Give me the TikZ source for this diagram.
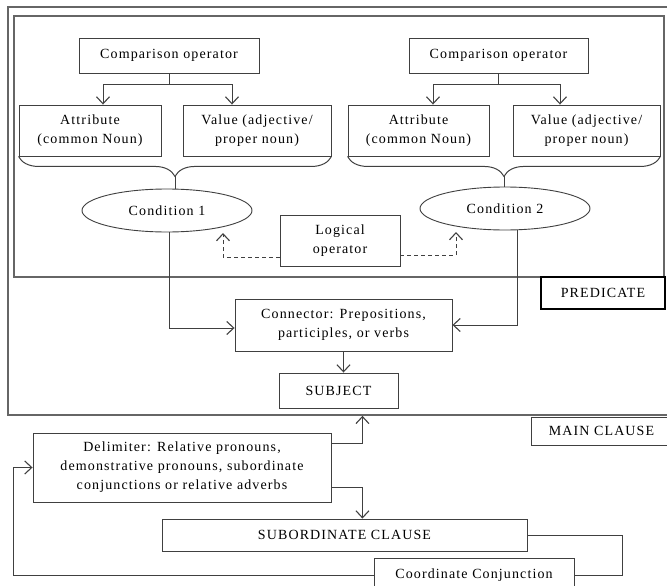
\documentclass[tikz,border=0pt]{standalone}
\usepackage{fontspec}
\setmainfont{Liberation Serif}[LetterSpace=8]
\usetikzlibrary{arrows.meta,shapes.geometric,calc,decorations.pathreplacing}

\begin{document}
\begin{tikzpicture}[x=1pt,y=-1pt,
  every node/.style={font=\fontsize{14}{19}\selectfont, text=black},
  box/.style={draw=black!75, line width=0.9pt, align=center, inner sep=0pt, fill=white},
  oval/.style={ellipse, draw=black!75, line width=0.9pt, inner sep=0pt, fill=white},
  frame/.style={draw=black!60, line width=1.6pt, inner sep=0pt},
  link/.style={draw=black!75, line width=1pt},
  arr/.style={link, -{Straight Barb[length=7pt,width=13pt,line width=1.1pt]}},
  dasharr/.style={arr, dash pattern=on 4pt off 3pt},
  brc/.style={link, decorate, decoration={brace, mirror, amplitude=20pt}}]

\useasboundingbox (0,0) rectangle (667,586);
\clip (0,0) rectangle (667,586);

% clause frames
\node[frame, minimum width=664pt, minimum height=408pt] (main) at (340,211) {};
\node[frame, minimum width=650pt, minimum height=261pt] (pred) at (339,146.5) {};
\node[box, draw=black, line width=1.8pt, minimum width=124pt, minimum height=32pt] (predlab) at (603,293) {PREDICATE};
\node[box, minimum width=141pt, minimum height=28pt] (mainlab) at (601.5,431) {MAIN CLAUSE};

% first condition
\node[box, minimum width=180pt, minimum height=35pt] (cmp1) at (169,55.5) {Comparison operator};
\node[box, minimum width=142pt, minimum height=51pt] (attr1) at (90,130.5) {Attribute\\(common Noun)};
\node[box, minimum width=148pt, minimum height=51pt] (val1) at (257,130.5) {Value (adjective/\\proper noun)};
\node[oval, minimum width=170pt, minimum height=43pt] (cond1) at (167,210.5) {Condition 1};

% second condition
\node[box, minimum width=179pt, minimum height=35pt] (cmp2) at (498.5,55.5) {Comparison operator};
\node[box, minimum width=141pt, minimum height=51pt] (attr2) at (418.5,130.5) {Attribute\\(common Noun)};
\node[box, minimum width=147pt, minimum height=51pt] (val2) at (586.5,130.5) {Value (adjective/\\proper noun)};
\node[oval, minimum width=170pt, minimum height=43pt] (cond2) at (505,208.5) {Condition 2};

\node[box, minimum width=120pt, minimum height=51pt] (logic) at (340,240.5) {Logical\\operator};
\node[box, minimum width=217pt, minimum height=52pt] (conn) at (343.5,325) {Connector: Prepositions,\\participles, or verbs};
\node[box, minimum width=119pt, minimum height=35pt] (subj) at (338.5,390.5) {SUBJECT};

% subordinate part
\node[box, minimum width=298pt, minimum height=69pt] (delim) at (182,467.5) {Delimiter: Relative pronouns,\\demonstrative pronouns, subordinate\\conjunctions or relative adverbs};
\node[box, minimum width=365pt, minimum height=32pt] (sub) at (344.5,535) {SUBORDINATE CLAUSE};
\node[box, minimum width=200pt, minimum height=34pt] (coord) at (474,575) {Coordinate Conjunction};

% comparison operators split into attribute and value
\coordinate (j1) at ($(cmp1.south)+(0,11)$);
\draw[link] (cmp1.south) -- (j1);
\draw[arr] (j1) -| ($(attr1.north)+(13,0)$);
\draw[arr] (j1) -| ($(val1.north)+(-25,0)$);
\coordinate (j2) at ($(cmp2.south)+(0,11)$);
\draw[link] (cmp2.south) -- (j2);
\draw[arr] (j2) -| ($(attr2.north)+(14.5,0)$);
\draw[arr] (j2) -| ($(val2.north)+(-26.5,0)$);

% braces gathering each pair into a condition
\draw[brc] (attr1.south west) -- (val1.south east);
\coordinate (t1) at ($(attr1.south west)!0.5!(val1.south east)+(0,20)$);
\draw[link] (t1) -- (t1 |- cond1.north);
\draw[brc] (attr2.south west) -- (val2.south east);
\coordinate (t2) at ($(attr2.south west)!0.5!(val2.south east)+(0,20)$);
\draw[link] (t2) -- (t2 |- cond2.north);

% logical operator joins the conditions
\coordinate (d1) at (223,233);
\coordinate (d2) at (456,232);
\draw[dasharr] ($(logic.west)+(0,17)$) -| (d1);
\draw[dasharr] ($(logic.east)+(0,15)$) -| (d2);

% conditions into the connector, connector to subject
\draw[arr] ($(cond1.south)+(2,0)$) |- ($(conn.west)+(0,3)$);
\draw[arr] ($(cond2.south)+(12,0)$) |- (conn.east);
\draw[arr] (conn.south) -- (conn.south |- subj.north);

% delimiter links the main and subordinate clauses
\coordinate (up) at ($(delim.east)+(31,-24.5)$);
\coordinate (dn) at ($(delim.east)+(31,19.5)$);
\draw[arr] ($(delim.east)+(0,-24.5)$) -| (up |- main.south);
\draw[arr] ($(delim.east)+(0,19.5)$) -| (dn |- sub.north);

% coordinate conjunction loop back to the delimiter
\draw[link] (sub.east) -- ++(95,0) |- (coord.east);
\draw[arr] (coord.west) -- ++(-360,0) |- (delim.west);
\end{tikzpicture}
\end{document}
